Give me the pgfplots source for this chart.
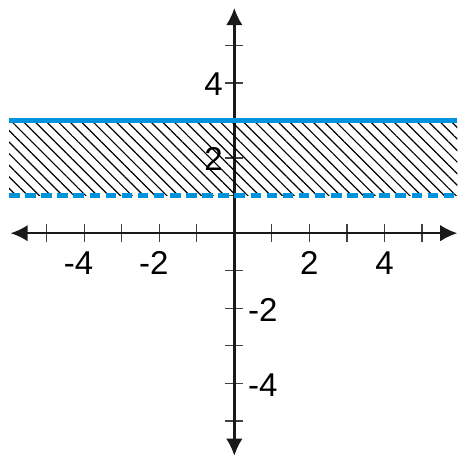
\documentclass[border=0pt]{standalone}
\usepackage{fontspec}
\setmainfont{Liberation Sans}
\usepackage{pgfplots}
\pgfplotsset{compat=1.18}
\usetikzlibrary{arrows.meta,patterns.meta}
\definecolor{LineBlue}{HTML}{0093DD}
\newcommand{\lab}{\fontsize{25}{30}\selectfont}

\begin{document}
\begin{tikzpicture}
\begin{axis}[
  x=1cm, y=1cm,
  xmin=-5.96, xmax=5.94, ymin=-5.93, ymax=6.0,
  axis lines=middle,
  clip=false,
  axis line style={line width=1.8pt, black!90,
    {Latex[length=13pt,width=12.5pt]}-{Latex[length=13pt,width=12.5pt]}},
  xtick={-5,-4,-3,-2,-1,1,2,3,4,5},
  xticklabels={,\llap{-}4,,\llap{-}2,,,2,,4,},
  ytick={-5,-4,-3,-2,-1,1,2,3,4,5},
  yticklabels={,\rlap{\hspace{10.5pt}-4},,\rlap{\hspace{10.5pt}-2},,,
    \llap{2\hspace{8.8pt}},,\llap{4\hspace{8.8pt}},},
  xticklabel shift=-6.75pt, yticklabel shift=-6.75pt,
  major tick length=13.5pt, tick align=center,
  tick style={line width=0.9pt, black!75},
  xticklabel style={font=\lab, inner sep=0pt, anchor=base, yshift=-31.3pt},
  yticklabel style={font=\lab, inner sep=0pt, anchor=center, yshift=-1pt},
]
  % shaded band 1 <= y <= 3
  \addplot[draw=none, pattern={Lines[angle=-45,distance=6.2pt,line width=0.9pt]},
    pattern color=black] coordinates {(-6.0,1) (5.94,1) (5.94,3) (-6.0,3)};
  \addplot[LineBlue, line width=4pt] coordinates {(-6.0,3) (5.94,3)};
  \addplot[LineBlue, line width=4pt, dash pattern=on 8pt off 4.2pt]
    coordinates {(-6.0,1) (5.94,1)};
  \path (axis cs:-6.24,6.21);
\end{axis}
\end{tikzpicture}
\end{document}
